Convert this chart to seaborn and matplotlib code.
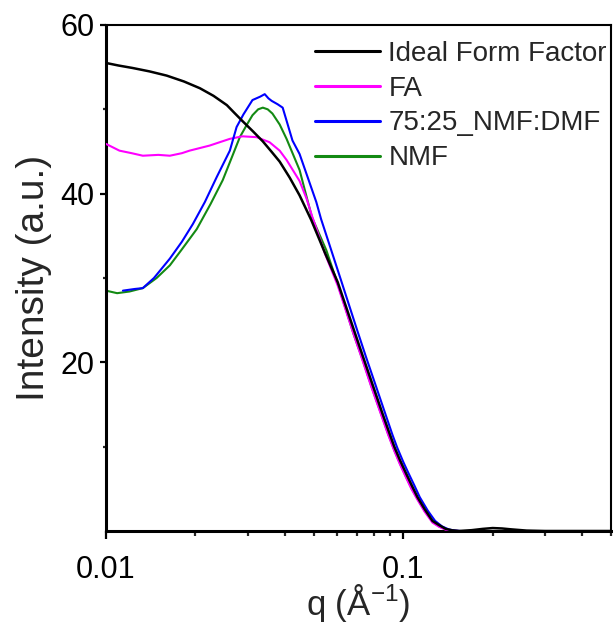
import numpy as np
import pandas as pd
import matplotlib
matplotlib.use("Agg")
import matplotlib.pyplot as plt
import matplotlib.ticker as mticker
import seaborn as sns

# ---- data ----
q_ideal = [0.0100, 0.0110, 0.0123, 0.0140, 0.0160, 0.0183, 0.0207, 0.0230, 0.0255,
           0.0270, 0.0288, 0.0312, 0.0337, 0.0360, 0.0384, 0.0415, 0.0448, 0.0490,
           0.0545, 0.0602, 0.0680, 0.0730, 0.0779, 0.0850, 0.0890, 0.0933, 0.0975,
           0.1020, 0.1065, 0.1117, 0.1180, 0.1254, 0.1320, 0.1390, 0.1460, 0.1540,
           0.1700, 0.1850, 0.2000, 0.2150, 0.2300, 0.2600, 0.3000, 0.5000]
i_ideal = [55.5, 55.2, 54.9, 54.5, 54.0, 53.3, 52.5, 51.6, 50.5,
           49.6, 48.6, 47.4, 46.2, 45.0, 43.8, 41.9, 39.8, 36.9,
           33.0, 29.5, 24.0, 20.8, 17.9, 14.0, 12.0, 10.0, 8.4,
           6.9, 5.5, 4.0, 2.6, 1.2, 0.7, 0.25, 0.08, 0.0,
           0.1, 0.25, 0.35, 0.3, 0.2, 0.05, 0.0, 0.0]

q_fa = [0.0100, 0.0111, 0.0122, 0.0133, 0.0150, 0.0164, 0.0180, 0.0191, 0.0223,
        0.0261, 0.0288, 0.0321, 0.0355, 0.0384, 0.0405, 0.0448, 0.0473, 0.0495,
        0.0545, 0.0602, 0.0680, 0.0730, 0.0779, 0.0850, 0.0890, 0.0933, 0.0975,
        0.1020, 0.1065, 0.1117, 0.1180, 0.1254, 0.1320, 0.1390, 0.1460, 0.1540]
i_fa = [45.9, 45.1, 44.8, 44.5, 44.6, 44.5, 44.8, 45.1, 45.7,
        46.5, 46.8, 46.7, 46.1, 45.1, 44.0, 41.5, 39.4, 37.2,
        32.9, 29.1, 23.4, 20.2, 17.2, 13.4, 11.4, 9.5, 7.9,
        6.4, 5.0, 3.7, 2.3, 1.0, 0.5, 0.15, 0.05, 0.0]

q_mix = [0.0114, 0.0125, 0.0133, 0.0145, 0.0164, 0.0180, 0.0196, 0.0215, 0.0236,
         0.0261, 0.0275, 0.0290, 0.0311, 0.0330, 0.0342, 0.0352, 0.0361, 0.0378,
         0.0393, 0.0424, 0.0448, 0.0510, 0.0529, 0.0564, 0.0618, 0.0700, 0.0750,
         0.0800, 0.0880, 0.0920, 0.0954, 0.1000, 0.1040, 0.1090, 0.1137, 0.1210,
         0.1280, 0.1350, 0.1420, 0.1490, 0.1560]
i_mix = [28.5, 28.7, 28.8, 30.0, 32.3, 34.3, 36.4, 39.0, 42.0,
         45.1, 47.9, 49.4, 51.1, 51.5, 51.8, 51.3, 51.0, 50.6,
         50.2, 46.3, 44.7, 39.0, 37.0, 34.0, 29.7, 23.8, 20.6,
         17.7, 13.4, 11.4, 9.9, 8.2, 6.9, 5.4, 4.0, 2.4,
         1.2, 0.55, 0.2, 0.05, 0.0]

q_nmf = [0.0100, 0.0109, 0.0120, 0.0133, 0.0148, 0.0164, 0.0180, 0.0202, 0.0225,
         0.0247, 0.0265, 0.0282, 0.0298, 0.0311, 0.0325, 0.0337, 0.0350, 0.0363,
         0.0384, 0.0405, 0.0448, 0.0493, 0.0551, 0.0610, 0.0680, 0.0730, 0.0779,
         0.0850, 0.0890, 0.0933, 0.0975, 0.1020, 0.1065, 0.1117, 0.1180, 0.1254,
         0.1320, 0.1390, 0.1460, 0.1540]
i_nmf = [28.5, 28.2, 28.4, 28.8, 30.0, 31.5, 33.4, 35.8, 38.8,
         41.6, 44.3, 46.7, 48.2, 49.3, 50.0, 50.2, 50.0, 49.5,
         48.2, 46.5, 42.8, 37.2, 33.3, 28.7, 23.4, 20.3, 17.3,
         13.5, 11.5, 9.6, 8.0, 6.5, 5.1, 3.8, 2.4, 1.1,
         0.55, 0.2, 0.05, 0.0]

labels = ["Ideal Form Factor", "FA", "75:25_NMF:DMF", "NMF"]
colors = ["#000000", "#FF00FF", "#0000FF", "#138A13"]
x_ticks = [0.01, 0.1]
x_ticklabels = ["0.01", "0.1"]
y_ticks = [20, 40, 60]

# ---- style ----
sns.set_style("ticks")
plt.rcParams["font.family"] = ["Liberation Sans", "DejaVu Sans"]

fig = plt.figure(figsize=(6.13, 6.25), dpi=100)
ax = fig.add_axes([106 / 613, 1 - 531 / 625, (611 - 106) / 613, (531 - 25) / 625])

series = [(q_ideal, i_ideal, 1.8, 5),
          (q_fa, i_fa, 1.5, 3),
          (q_mix, i_mix, 1.5, 4),
          (q_nmf, i_nmf, 1.5, 2)]
for (qq, ii, lw, z), lab, col in zip(series, labels, colors):
    df = pd.DataFrame({"q": qq, "I": ii})
    sns.lineplot(data=df, x="q", y="I", color=col, label=lab, linewidth=lw,
                 zorder=z, ax=ax, estimator=None)

ax.set_xscale("log")
ax.set_xlim(0.01, 0.5)
ax.set_ylim(0, 60)

ax.set_xticks(x_ticks)
ax.set_xticklabels(x_ticklabels)
ax.xaxis.set_minor_locator(mticker.LogLocator(base=10, subs=np.arange(2, 10), numticks=20))
ax.xaxis.set_minor_formatter(mticker.NullFormatter())
ax.set_yticks(y_ticks)
ax.yaxis.set_minor_locator(mticker.FixedLocator([10, 30, 50]))

ax.tick_params(axis="both", which="major", labelsize=22, width=1.6, direction="out", colors="black")
ax.tick_params(axis="x", which="major", length=6, pad=11)
ax.tick_params(axis="x", which="minor", length=3.5, width=1.6)
ax.tick_params(axis="y", which="major", length=4.5, pad=4)
ax.tick_params(axis="y", which="minor", length=2.5, width=1.6)

for side in ["left", "bottom"]:
    ax.spines[side].set_linewidth(2.2)
for side in ["top", "right"]:
    ax.spines[side].set_linewidth(1.5)
for sp in ax.spines.values():
    sp.set_color("black")

ax.set_xlabel(r"q (Å$^{\mathregular{-1}}$)", fontsize=25, labelpad=-2)
ax.set_ylabel("Intensity (a.u.)", fontsize=28, labelpad=6)

leg = ax.legend(loc="upper right", frameon=False, fontsize=20, handlelength=2.35,
                handletextpad=0.3, labelspacing=0.32, borderaxespad=0.0,
                bbox_to_anchor=(1.014, 0.991))
for h in leg.get_lines():
    h.set_linewidth(2.2)

fig.savefig("out.png", dpi=100)
